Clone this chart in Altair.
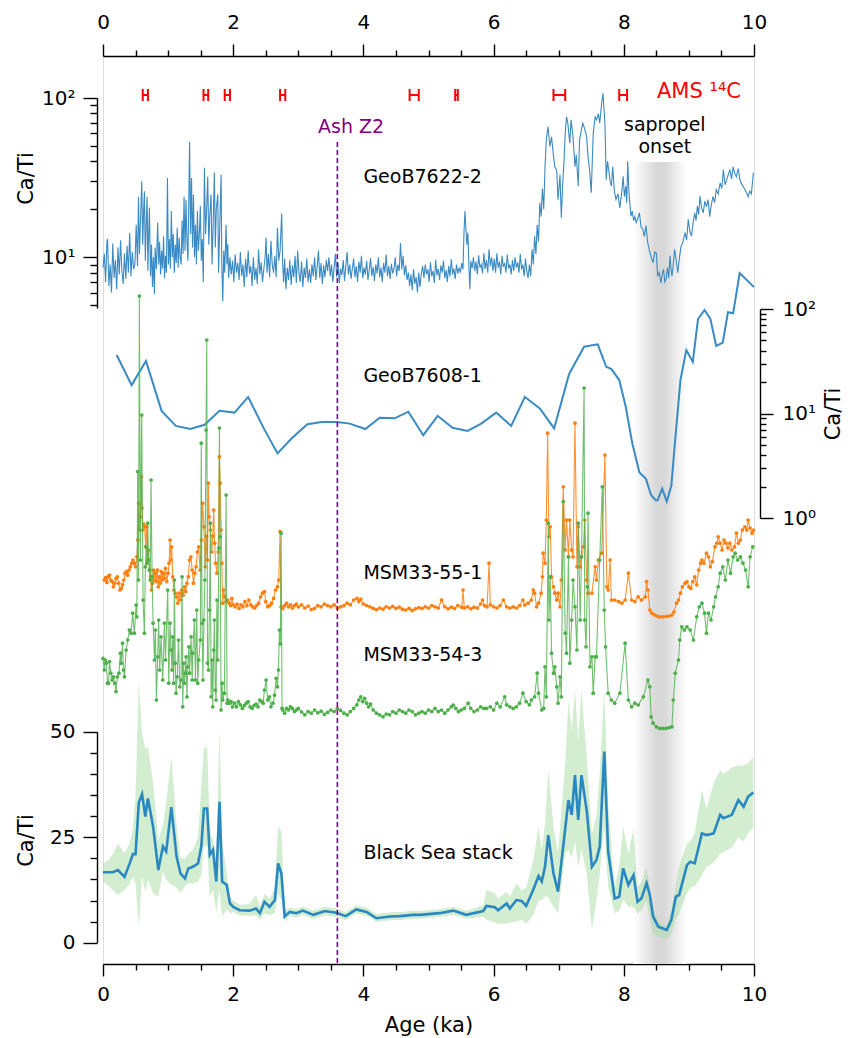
import altair as alt
import pandas as pd

# ---------------- data: Ca/Ti records, age in ka ----------------
GEOB7622_2 = [
    (0.00, 8.6), (0.02, 10.5), (0.04, 7.0), (0.06, 12.5), (0.07, 13.0), (0.09, 6.6), (0.11, 9.0),
    (0.13, 6.0), (0.15, 12.2), (0.17, 7.4), (0.19, 9.6), (0.21, 6.3), (0.23, 11.5), (0.25, 7.8),
    (0.27, 12.8), (0.29, 8.2), (0.31, 6.8), (0.33, 10.6), (0.35, 7.3), (0.37, 11.8), (0.39, 8.0),
    (0.41, 14.2), (0.43, 7.6), (0.45, 10.8), (0.47, 8.4), (0.49, 9.0), (0.51, 16.0), (0.53, 8.8),
    (0.545, 24.0), (0.56, 10.5), (0.58, 19.0), (0.595, 30.0), (0.61, 12.0), (0.625, 20.0),
    (0.636, 26.0), (0.65, 9.5), (0.665, 17.0), (0.677, 24.0), (0.69, 8.2), (0.70, 13.0),
    (0.713, 20.5), (0.73, 7.6), (0.745, 12.0), (0.76, 6.5), (0.775, 10.0), (0.79, 5.9),
    (0.80, 11.5), (0.82, 8.4), (0.84, 16.5), (0.855, 9.0), (0.87, 12.5), (0.885, 7.8), (0.90, 11.0),
    (0.915, 8.5), (0.93, 13.5), (0.945, 7.4), (0.96, 10.2), (0.975, 8.0), (0.99, 31.5), (1.005, 9.0),
    (1.02, 13.0), (1.035, 8.5), (1.05, 19.5), (1.065, 10.0), (1.08, 14.0), (1.095, 8.0), (1.11, 12.0),
    (1.125, 9.2), (1.14, 15.3), (1.155, 8.6), (1.17, 13.3), (1.185, 10.0), (1.20, 9.0), (1.215, 17.0),
    (1.23, 10.5), (1.245, 24.0), (1.26, 11.0), (1.275, 23.0), (1.29, 12.5), (1.305, 9.5),
    (1.33, 53.0), (1.345, 14.0), (1.36, 31.5), (1.375, 11.5), (1.39, 24.8), (1.405, 10.0),
    (1.42, 16.0), (1.435, 9.0), (1.45, 19.5), (1.465, 11.0), (1.48, 14.0), (1.495, 21.0),
    (1.51, 9.5), (1.525, 13.0), (1.54, 7.0), (1.558, 36.5), (1.575, 14.0), (1.59, 19.0),
    (1.609, 32.0), (1.625, 12.0), (1.64, 18.0), (1.66, 24.8), (1.675, 9.0), (1.69, 15.0),
    (1.711, 34.0), (1.725, 11.5), (1.74, 20.0), (1.763, 24.8), (1.775, 8.0), (1.79, 14.0),
    (1.814, 33.0), (1.825, 9.0), (1.84, 5.3), (1.855, 11.0), (1.87, 8.0), (1.89, 16.0),
    (1.905, 9.0), (1.917, 12.1), (1.93, 7.4), (1.95, 10.0), (1.97, 7.8), (1.99, 9.5), (2.01, 7.0),
    (2.03, 10.4), (2.05, 8.0), (2.07, 9.2), (2.09, 7.2), (2.11, 10.8), (2.13, 7.6), (2.15, 9.0),
    (2.17, 6.5), (2.19, 9.8), (2.21, 7.5), (2.23, 11.0), (2.25, 7.9), (2.27, 8.8), (2.29, 6.6),
    (2.31, 10.0), (2.33, 7.2), (2.35, 8.6), (2.37, 6.8), (2.39, 11.2), (2.41, 7.8), (2.43, 9.3),
    (2.45, 7.0), (2.47, 8.4), (2.49, 10.0), (2.505, 13.3), (2.52, 8.0), (2.54, 10.5), (2.56, 7.5),
    (2.58, 12.7), (2.60, 9.0), (2.62, 8.0), (2.64, 10.2), (2.66, 7.5), (2.68, 15.3), (2.70, 9.5),
    (2.72, 11.0), (2.745, 18.8), (2.76, 9.0), (2.775, 7.0), (2.79, 9.8), (2.81, 6.3), (2.83, 8.6),
    (2.85, 7.2), (2.87, 9.6), (2.89, 6.7), (2.91, 8.9), (2.93, 7.5), (2.95, 10.2), (2.97, 6.9),
    (2.99, 11.0), (3.01, 8.0), (3.03, 7.0), (3.05, 9.4), (3.07, 6.5), (3.09, 8.6), (3.11, 7.4),
    (3.13, 9.8), (3.15, 7.0), (3.17, 8.4), (3.19, 6.9), (3.21, 9.0), (3.23, 7.6), (3.25, 10.0),
    (3.27, 7.2), (3.29, 8.8), (3.31, 11.0), (3.33, 7.4), (3.35, 9.2), (3.37, 6.8), (3.39, 8.9),
    (3.41, 7.5), (3.43, 9.6), (3.45, 8.2), (3.47, 10.0), (3.49, 7.6), (3.51, 9.0), (3.53, 7.0),
    (3.55, 8.6), (3.57, 10.5), (3.59, 7.5), (3.61, 9.2), (3.63, 6.9), (3.65, 8.5), (3.67, 7.7),
    (3.69, 9.6), (3.71, 7.1), (3.73, 8.8), (3.75, 10.8), (3.77, 7.8), (3.79, 9.0), (3.81, 7.3),
    (3.83, 8.5), (3.85, 9.8), (3.87, 7.5), (3.89, 8.8), (3.91, 7.0), (3.93, 9.4), (3.95, 8.0),
    (3.97, 10.2), (3.99, 7.4), (4.01, 8.6), (4.03, 7.8), (4.05, 9.5), (4.07, 7.2), (4.09, 8.3),
    (4.11, 9.9), (4.13, 7.6), (4.15, 8.7), (4.17, 7.1), (4.19, 9.0), (4.21, 7.9), (4.23, 10.0),
    (4.25, 7.5), (4.27, 8.6), (4.29, 7.0), (4.31, 9.2), (4.33, 8.0), (4.35, 10.4), (4.37, 7.6),
    (4.39, 8.8), (4.41, 7.3), (4.43, 9.1), (4.45, 7.9), (4.47, 8.5), (4.49, 10.0), (4.51, 7.6),
    (4.53, 9.0), (4.55, 8.2), (4.57, 12.3), (4.59, 8.4), (4.61, 10.2), (4.63, 7.7), (4.65, 8.9),
    (4.67, 7.2), (4.69, 8.0), (4.71, 6.6), (4.73, 7.8), (4.75, 6.2), (4.77, 8.4), (4.79, 6.8),
    (4.81, 7.5), (4.83, 6.0), (4.85, 8.0), (4.87, 6.5), (4.89, 7.9), (4.91, 8.8), (4.93, 7.4),
    (4.95, 9.0), (4.97, 7.8), (4.99, 8.4), (5.01, 7.0), (5.03, 9.3), (5.05, 7.6), (5.07, 8.2),
    (5.09, 6.9), (5.11, 9.6), (5.13, 7.7), (5.15, 8.5), (5.17, 7.2), (5.19, 8.9), (5.21, 8.0),
    (5.23, 9.5), (5.25, 7.4), (5.27, 8.3), (5.29, 7.0), (5.31, 8.8), (5.33, 7.6), (5.35, 9.7),
    (5.37, 7.8), (5.39, 8.5), (5.41, 7.3), (5.43, 9.0), (5.45, 7.9), (5.47, 8.6), (5.49, 8.0),
    (5.51, 9.2), (5.53, 8.4), (5.545, 14.3), (5.56, 19.5), (5.575, 15.0), (5.59, 12.0),
    (5.605, 14.3), (5.62, 9.0), (5.635, 6.3), (5.65, 9.5), (5.67, 8.5), (5.69, 10.0), (5.71, 8.2),
    (5.73, 9.4), (5.75, 7.8), (5.77, 10.3), (5.79, 8.6), (5.81, 9.0), (5.83, 7.9), (5.85, 10.6),
    (5.87, 8.4), (5.89, 9.6), (5.91, 8.0), (5.93, 11.2), (5.95, 8.8), (5.97, 10.0), (5.99, 8.2),
    (6.01, 9.8), (6.03, 8.0), (6.05, 10.6), (6.07, 8.6), (6.09, 9.4), (6.11, 7.8), (6.13, 10.2),
    (6.15, 8.7), (6.17, 9.2), (6.19, 8.0), (6.21, 10.4), (6.23, 8.5), (6.25, 9.0), (6.27, 7.8),
    (6.29, 9.6), (6.31, 8.2), (6.33, 10.0), (6.35, 8.6), (6.37, 9.3), (6.39, 8.0), (6.41, 10.5),
    (6.43, 8.4), (6.45, 9.0), (6.47, 7.6), (6.49, 9.8), (6.51, 8.2), (6.53, 7.4), (6.55, 9.0),
    (6.57, 7.6), (6.59, 11.2), (6.61, 9.0), (6.63, 13.6), (6.65, 10.5), (6.67, 16.0), (6.69, 12.5),
    (6.71, 22.0), (6.73, 18.0), (6.75, 27.0), (6.77, 20.0), (6.79, 37.0), (6.81, 55.0),
    (6.835, 66.0), (6.865, 49.6), (6.89, 57.0), (6.92, 43.0), (6.94, 37.0), (6.97, 35.0),
    (6.99, 23.0), (7.02, 33.0), (7.04, 17.7), (7.06, 28.0), (7.08, 39.0), (7.10, 60.0),
    (7.12, 76.4), (7.14, 69.5), (7.17, 52.0), (7.19, 73.0), (7.22, 57.0), (7.25, 37.0),
    (7.27, 44.0), (7.30, 27.9), (7.32, 54.6), (7.345, 62.0), (7.37, 69.5), (7.40, 63.7),
    (7.43, 57.0), (7.45, 43.0), (7.475, 35.0), (7.50, 25.4), (7.53, 60.0), (7.56, 76.0),
    (7.58, 73.0), (7.61, 79.6), (7.63, 69.5), (7.66, 92.6), (7.68, 107.0), (7.71, 69.5),
    (7.73, 30.7), (7.75, 40.0), (7.77, 35.0), (7.79, 30.0), (7.81, 27.9), (7.83, 37.0),
    (7.855, 26.0), (7.88, 23.0), (7.91, 25.0), (7.94, 20.4), (7.97, 26.0), (7.99, 32.2),
    (8.01, 24.0), (8.03, 27.9), (8.045, 22.0), (8.06, 40.0), (8.08, 25.0), (8.11, 18.1),
    (8.13, 19.5), (8.15, 17.0), (8.17, 18.0), (8.19, 16.5), (8.215, 17.5), (8.24, 19.0),
    (8.265, 15.5), (8.29, 15.0), (8.315, 13.5), (8.34, 15.8), (8.365, 12.5), (8.39, 11.2),
    (8.42, 10.0), (8.45, 9.25), (8.475, 10.8), (8.50, 10.6), (8.52, 7.6), (8.545, 8.0),
    (8.57, 6.9), (8.59, 7.8), (8.61, 8.4), (8.63, 7.0), (8.65, 7.3), (8.67, 8.6), (8.69, 7.4),
    (8.71, 10.2), (8.725, 8.5), (8.74, 7.6), (8.76, 9.0), (8.78, 11.2), (8.805, 9.5), (8.83, 8.0),
    (8.855, 10.0), (8.88, 11.7), (8.91, 12.5), (8.94, 14.3), (8.965, 12.8), (8.99, 17.3),
    (9.015, 14.5), (9.04, 13.6), (9.065, 16.5), (9.09, 19.0), (9.11, 17.0), (9.13, 21.0),
    (9.15, 18.5), (9.17, 24.2), (9.195, 20.5), (9.22, 19.0), (9.245, 22.5), (9.27, 20.7),
    (9.295, 23.0), (9.32, 18.0), (9.345, 21.5), (9.37, 24.0), (9.395, 22.0), (9.42, 26.6),
    (9.45, 25.0), (9.48, 29.3), (9.505, 27.0), (9.53, 35.5), (9.555, 28.5), (9.58, 30.7),
    (9.605, 33.0), (9.63, 35.5), (9.655, 31.0), (9.68, 37.0), (9.705, 33.5), (9.73, 32.0),
    (9.745, 34.5), (9.76, 36.0), (9.78, 31.0), (9.80, 29.3), (9.83, 28.0), (9.86, 26.6),
    (9.885, 25.5), (9.91, 24.0), (9.935, 26.0), (9.96, 25.0), (9.975, 29.0), (9.99, 33.9),
]

GEOB7608_1 = [
    (0.21, 36.3), (0.44, 18.7), (0.66, 31.8), (0.90, 10.6), (1.12, 7.6), (1.34, 7.1), (1.56, 7.8),
    (1.79, 10.6), (2.02, 10.2), (2.23, 14.4), (2.47, 7.2), (2.68, 4.15), (2.90, 5.8), (3.14, 7.9),
    (3.36, 8.3), (3.59, 8.3), (3.79, 8.0), (4.03, 7.1), (4.25, 9.1), (4.48, 9.0), (4.69, 10.4),
    (4.92, 6.2), (5.14, 9.5), (5.37, 7.3), (5.60, 6.8), (5.81, 8.0), (6.04, 10.2), (6.27, 7.6),
    (6.48, 14.4), (6.71, 11.2), (6.93, 7.2), (7.16, 23.9), (7.39, 43.6), (7.60, 45.9),
    (7.73, 28.0), (7.81, 26.6), (7.93, 20.9), (8.03, 11.6), (8.13, 5.2), (8.24, 2.73),
    (8.34, 2.37), (8.42, 1.65), (8.49, 1.48), (8.52, 1.48), (8.59, 1.91), (8.66, 1.44),
    (8.73, 2.03), (8.78, 4.8), (8.87, 20.9), (8.96, 40.5), (9.06, 31.3), (9.14, 80.2),
    (9.24, 98.0), (9.33, 80.2), (9.42, 44.3), (9.52, 47.6), (9.60, 93.0), (9.68, 91.0),
    (9.78, 221.0), (10.0, 162.0),
]

MSM33_55_1 = [
    (0.02, 15.0), (0.04, 15.6), (0.06, 14.4), (0.08, 15.8), (0.10, 16.2), (0.12, 15.0), (0.14, 14.6),
    (0.16, 13.3), (0.18, 14.2), (0.20, 15.4), (0.22, 15.8), (0.24, 14.2), (0.26, 12.5), (0.28, 12.9),
    (0.30, 13.8), (0.32, 15.0), (0.34, 16.7), (0.36, 17.1), (0.38, 16.2), (0.40, 17.5), (0.42, 18.3),
    (0.44, 19.2), (0.46, 20.0), (0.48, 19.2), (0.50, 18.3), (0.52, 20.8), (0.535, 25.0),
    (0.55, 34.2), (0.56, 27.5), (0.575, 30.8), (0.59, 40.8), (0.60, 33.0), (0.61, 27.5),
    (0.625, 29.0), (0.64, 28.3), (0.655, 23.3), (0.67, 28.3), (0.685, 20.0), (0.70, 22.5),
    (0.715, 17.5), (0.73, 15.8), (0.745, 12.5), (0.76, 14.2), (0.775, 17.5), (0.79, 15.0),
    (0.805, 16.7), (0.82, 14.6), (0.835, 17.5), (0.85, 13.3), (0.865, 15.8), (0.88, 14.2),
    (0.895, 17.1), (0.91, 15.0), (0.925, 16.7), (0.94, 15.4), (0.96, 17.9), (0.98, 14.6),
    (1.00, 16.7), (1.015, 19.2), (1.03, 25.0), (1.045, 20.0), (1.055, 23.3), (1.07, 15.8),
    (1.09, 12.5), (1.11, 11.7), (1.13, 10.8), (1.15, 9.2), (1.17, 11.7), (1.19, 10.0), (1.21, 12.5),
    (1.23, 11.2), (1.25, 13.3), (1.27, 12.1), (1.29, 14.2), (1.31, 15.8), (1.33, 20.0), (1.35, 20.8),
    (1.37, 17.5), (1.39, 14.2), (1.41, 16.7), (1.43, 18.3), (1.45, 22.0), (1.47, 23.3), (1.49, 17.5),
    (1.51, 25.0), (1.531, 34.2), (1.55, 28.3), (1.57, 18.3), (1.59, 26.0), (1.605, 20.0),
    (1.618, 39.2), (1.63, 30.8), (1.65, 27.5), (1.67, 22.0), (1.685, 26.0), (1.70, 32.5),
    (1.715, 24.2), (1.73, 19.2), (1.75, 16.7), (1.77, 22.0), (1.787, 45.8), (1.80, 39.2),
    (1.815, 27.5), (1.825, 19.2), (1.838, 9.2), (1.85, 12.5), (1.87, 10.8), (1.89, 9.6),
    (1.915, 10.0), (1.94, 9.2), (1.96, 8.6), (1.98, 10.4), (2.00, 8.8), (2.03, 8.3), (2.06, 9.0),
    (2.09, 7.9), (2.12, 8.8), (2.15, 8.3), (2.18, 9.6), (2.21, 8.6), (2.24, 10.0), (2.27, 8.8),
    (2.30, 8.3), (2.33, 8.0), (2.36, 8.6), (2.39, 9.2), (2.42, 10.8), (2.45, 11.7), (2.48, 12.1),
    (2.50, 9.6), (2.53, 8.3), (2.56, 8.6), (2.59, 9.2), (2.62, 10.4), (2.65, 12.5), (2.68, 13.3),
    (2.70, 15.0), (2.72, 27.1), (2.735, 8.3), (2.76, 7.9), (2.79, 8.6), (2.82, 9.2), (2.85, 8.3),
    (2.88, 8.8), (2.91, 8.0), (2.94, 8.6), (2.97, 9.0), (3.00, 8.3), (3.05, 8.8), (3.10, 8.0),
    (3.15, 8.5), (3.20, 7.6), (3.25, 7.9), (3.30, 8.6), (3.35, 8.3), (3.40, 9.0), (3.45, 8.6),
    (3.50, 8.3), (3.55, 8.8), (3.60, 8.0), (3.65, 8.3), (3.70, 8.6), (3.75, 9.2), (3.80, 8.8),
    (3.85, 10.0), (3.90, 10.4), (3.93, 9.6), (3.96, 10.2), (4.00, 9.0), (4.05, 8.6), (4.10, 8.3),
    (4.15, 7.9), (4.20, 7.6), (4.25, 8.0), (4.30, 7.7), (4.35, 8.3), (4.40, 8.0), (4.45, 8.4),
    (4.50, 7.9), (4.55, 8.2), (4.60, 7.7), (4.65, 7.5), (4.70, 7.9), (4.75, 7.4), (4.80, 7.8),
    (4.85, 8.1), (4.90, 7.9), (4.95, 8.3), (5.00, 8.0), (5.05, 8.6), (5.10, 8.3), (5.15, 8.0),
    (5.20, 10.0), (5.25, 8.3), (5.30, 7.8), (5.35, 8.2), (5.40, 7.9), (5.45, 8.6), (5.51, 8.2),
    (5.53, 12.5), (5.55, 8.0), (5.60, 8.3), (5.65, 7.8), (5.70, 8.2), (5.75, 8.0), (5.80, 9.0),
    (5.83, 10.0), (5.86, 8.6), (5.90, 8.3), (5.93, 19.2), (5.95, 8.8), (6.00, 8.3), (6.05, 8.0),
    (6.10, 8.6), (6.15, 10.0), (6.20, 8.3), (6.25, 8.0), (6.30, 8.3), (6.35, 8.0), (6.40, 8.6),
    (6.45, 10.0), (6.48, 8.75), (6.53, 9.2), (6.58, 10.0), (6.61, 12.5), (6.63, 11.7), (6.66, 8.3),
    (6.69, 9.2), (6.73, 11.7), (6.75, 15.8), (6.76, 21.7), (6.79, 19.2), (6.81, 30.0),
    (6.83, 51.7), (6.85, 25.8), (6.87, 28.3), (6.89, 15.8), (6.92, 13.3), (6.94, 11.7),
    (6.97, 10.0), (6.99, 11.7), (7.02, 8.3), (7.04, 15.0), (7.07, 38.3), (7.10, 22.5), (7.12, 30.0),
    (7.15, 20.8), (7.17, 30.0), (7.20, 22.5), (7.22, 20.8), (7.25, 54.2), (7.28, 18.3), (7.30, 28.3),
    (7.33, 18.3), (7.35, 20.8), (7.38, 23.3), (7.40, 30.0), (7.43, 15.0), (7.45, 11.7), (7.51, 11.7),
    (7.56, 18.3), (7.58, 15.0), (7.61, 20.0), (7.66, 21.7), (7.71, 46.25), (7.74, 13.3),
    (7.76, 12.5), (7.79, 20.0), (7.81, 10.0), (7.86, 10.0), (7.92, 9.6), (7.97, 9.2), (8.02, 10.0),
    (8.07, 16.7), (8.12, 10.0), (8.17, 9.6), (8.22, 10.8), (8.27, 10.0), (8.33, 10.8), (8.35, 14.6),
    (8.37, 12.5), (8.40, 7.5), (8.43, 6.7), (8.47, 6.3), (8.51, 6.0), (8.55, 5.8), (8.60, 5.8),
    (8.65, 5.9), (8.70, 6.0), (8.74, 6.25), (8.77, 7.0), (8.81, 9.2), (8.84, 10.0), (8.87, 11.7),
    (8.90, 13.3), (8.94, 14.2), (8.97, 14.6), (9.00, 13.3), (9.03, 12.9), (9.06, 14.6), (9.09, 15.8),
    (9.12, 13.8), (9.15, 17.5), (9.18, 19.2), (9.20, 20.0), (9.23, 19.2), (9.27, 21.7), (9.30, 20.8),
    (9.33, 18.3), (9.36, 19.6), (9.40, 23.3), (9.43, 24.2), (9.45, 25.8), (9.48, 24.2), (9.51, 22.5),
    (9.54, 25.0), (9.57, 24.2), (9.60, 23.0), (9.63, 24.2), (9.66, 22.5), (9.70, 23.3), (9.73, 26.7),
    (9.76, 24.2), (9.79, 25.0), (9.82, 27.5), (9.86, 28.3), (9.89, 27.5), (9.91, 30.0), (9.94, 28.0),
    (9.97, 26.7), (9.99, 27.5),
]

MSM33_54_3 = [
    (0.00, 20.4), (0.02, 17.5), (0.035, 20.0), (0.05, 19.2), (0.07, 14.2), (0.085, 14.2),
    (0.10, 19.6), (0.12, 16.7), (0.14, 15.0), (0.16, 15.8), (0.18, 14.2), (0.20, 12.1), (0.22, 15.8),
    (0.245, 16.7), (0.267, 21.7), (0.28, 19.2), (0.30, 24.2), (0.315, 17.5), (0.33, 15.8),
    (0.355, 22.5), (0.38, 25.0), (0.405, 27.5), (0.43, 26.7), (0.456, 31.7), (0.482, 26.7),
    (0.508, 33.75), (0.52, 30.8), (0.533, 67.1), (0.545, 40.0), (0.559, 111.0), (0.574, 45.0),
    (0.595, 81.25), (0.615, 35.0), (0.636, 26.7), (0.651, 43.3), (0.661, 48.3), (0.675, 44.2),
    (0.687, 54.2), (0.70, 45.0), (0.713, 42.5), (0.725, 40.0), (0.738, 65.0), (0.754, 40.8),
    (0.77, 29.2), (0.79, 20.0), (0.805, 27.5), (0.82, 10.0), (0.84, 20.8), (0.855, 30.0),
    (0.87, 17.5), (0.892, 25.8), (0.917, 15.0), (0.943, 29.2), (0.96, 20.0), (0.994, 37.5),
    (1.01, 14.2), (1.03, 29.2), (1.046, 22.5), (1.06, 17.5), (1.071, 25.8), (1.085, 14.2),
    (1.097, 40.0), (1.11, 19.2), (1.122, 11.7), (1.14, 15.8), (1.16, 25.0), (1.18, 13.3),
    (1.199, 15.0), (1.215, 40.8), (1.225, 8.3), (1.24, 19.2), (1.25, 14.2), (1.265, 16.7),
    (1.276, 20.8), (1.29, 10.8), (1.302, 18.3), (1.32, 23.3), (1.33, 16.7), (1.353, 25.8),
    (1.37, 15.0), (1.379, 21.7), (1.404, 30.0), (1.42, 15.0), (1.44, 32.5), (1.455, 14.2),
    (1.47, 20.0), (1.495, 25.0), (1.51, 74.2), (1.522, 29.2), (1.535, 15.0), (1.55, 30.0),
    (1.565, 40.0), (1.583, 77.5), (1.594, 100.0), (1.605, 19.2), (1.62, 17.5), (1.635, 32.5),
    (1.65, 54.2), (1.66, 10.8), (1.675, 20.0), (1.686, 8.3), (1.70, 22.5), (1.711, 30.0),
    (1.725, 12.5), (1.737, 10.0), (1.75, 35.0), (1.763, 20.0), (1.78, 48.0), (1.788, 78.0),
    (1.80, 50.8), (1.814, 7.5), (1.83, 14.2), (1.84, 10.0), (1.865, 11.7), (1.891, 61.25),
    (1.906, 9.2), (1.92, 10.0), (1.942, 9.2), (1.968, 9.6), (1.99, 8.3), (2.02, 9.2), (2.05, 8.3),
    (2.08, 9.6), (2.11, 8.8), (2.14, 7.9), (2.17, 8.6), (2.20, 9.2), (2.23, 9.6), (2.26, 8.3),
    (2.29, 7.9), (2.32, 8.6), (2.35, 9.0), (2.38, 8.3), (2.41, 10.0), (2.44, 9.6), (2.46, 9.2),
    (2.48, 12.5), (2.505, 15.0), (2.53, 10.0), (2.557, 10.8), (2.58, 8.3), (2.61, 9.2),
    (2.635, 11.2), (2.66, 15.4), (2.68, 13.3), (2.695, 17.5), (2.71, 27.5), (2.725, 24.0),
    (2.736, 51.7), (2.75, 7.9), (2.762, 7.5), (2.79, 6.7), (2.82, 7.9), (2.85, 7.5), (2.88, 8.3),
    (2.91, 7.9), (2.94, 7.1), (2.97, 7.5), (3.00, 7.9), (3.05, 7.0), (3.10, 6.3), (3.15, 7.1),
    (3.20, 6.7), (3.25, 7.5), (3.30, 6.8), (3.35, 7.2), (3.40, 6.4), (3.45, 6.9), (3.50, 7.5),
    (3.55, 7.1), (3.60, 7.9), (3.65, 7.4), (3.70, 6.7), (3.75, 6.3), (3.80, 7.1), (3.85, 7.9),
    (3.90, 8.8), (3.93, 10.0), (3.96, 10.8), (3.99, 9.6), (4.02, 10.4), (4.05, 9.2), (4.08, 8.3),
    (4.11, 9.0), (4.15, 7.5), (4.20, 6.7), (4.25, 6.3), (4.30, 5.8), (4.35, 6.5), (4.40, 6.3),
    (4.45, 7.1), (4.50, 6.7), (4.55, 7.5), (4.60, 7.1), (4.65, 6.7), (4.70, 7.5), (4.75, 7.1),
    (4.80, 6.3), (4.85, 6.7), (4.90, 7.1), (4.95, 6.7), (5.00, 7.5), (5.05, 7.1), (5.10, 7.9),
    (5.15, 7.1), (5.20, 7.5), (5.25, 6.7), (5.30, 7.5), (5.35, 8.3), (5.38, 8.75), (5.42, 7.9),
    (5.46, 7.1), (5.50, 7.5), (5.55, 7.9), (5.61, 9.2), (5.65, 7.9), (5.70, 7.1), (5.75, 7.5),
    (5.80, 8.3), (5.85, 7.9), (5.89, 7.9), (5.95, 8.3), (6.00, 7.5), (6.05, 9.2), (6.10, 8.3),
    (6.17, 10.8), (6.20, 8.8), (6.25, 8.3), (6.30, 7.9), (6.35, 8.3), (6.40, 9.2), (6.45, 11.7),
    (6.50, 9.6), (6.55, 8.8), (6.58, 10.0), (6.63, 10.8), (6.67, 16.7), (6.69, 11.7), (6.74, 7.5),
    (6.77, 7.9), (6.79, 18.3), (6.81, 10.8), (6.84, 54.2), (6.85, 30.0), (6.87, 40.8),
    (6.89, 21.7), (6.92, 16.7), (6.94, 18.3), (6.97, 13.3), (6.99, 9.2), (7.02, 15.8), (7.04, 10.8),
    (7.07, 59.6), (7.10, 26.7), (7.12, 21.7), (7.15, 45.8), (7.17, 19.2), (7.20, 30.0), (7.22, 40.0),
    (7.25, 33.3), (7.28, 22.5), (7.30, 54.2), (7.33, 30.0), (7.35, 45.8), (7.39, 88.0), (7.40, 30.0),
    (7.42, 23.3), (7.44, 38.3), (7.45, 56.7), (7.48, 18.3), (7.51, 20.8), (7.53, 11.7), (7.56, 20.8),
    (7.58, 20.8), (7.63, 45.0), (7.67, 63.3), (7.70, 32.5), (7.72, 23.3), (7.76, 11.7), (7.81, 10.0),
    (7.86, 9.2), (7.94, 11.7), (8.02, 24.2), (8.07, 10.0), (8.12, 8.3), (8.17, 9.2), (8.22, 8.75),
    (8.30, 10.8), (8.37, 15.0), (8.40, 13.3), (8.42, 5.8), (8.45, 4.2), (8.50, 3.3), (8.55, 2.9),
    (8.60, 2.9), (8.65, 2.9), (8.70, 3.1), (8.74, 3.3), (8.76, 10.0), (8.79, 16.7), (8.84, 20.0),
    (8.86, 25.0), (8.89, 28.3), (8.93, 27.5), (8.97, 28.3), (9.02, 27.5), (9.07, 25.0), (9.12, 30.8),
    (9.16, 33.3), (9.20, 34.2), (9.24, 31.7), (9.27, 26.7), (9.30, 31.7), (9.34, 30.0), (9.38, 33.3),
    (9.41, 35.8), (9.45, 38.3), (9.48, 41.7), (9.52, 43.3), (9.56, 40.0), (9.60, 45.0), (9.64, 41.7),
    (9.68, 45.8), (9.71, 46.7), (9.75, 45.0), (9.79, 45.8), (9.83, 44.2), (9.87, 42.5), (9.91, 38.3),
    (9.94, 45.8), (9.98, 48.3),
]

# Black Sea stack: age, mean, lower and upper envelope
STACK = [
    (0.00, 16.7, 14.5, 18.8), (0.08, 16.7, 13.5, 19.5), (0.15, 16.7, 12.5, 21.0),
    (0.23, 17.2, 11.3, 23.5), (0.33, 15.6, 12.5, 21.2), (0.41, 18.8, 14.0, 23.5),
    (0.46, 21.0, 15.5, 27.0), (0.50, 21.0, 14.0, 35.0), (0.55, 33.2, 3.8, 62.0),
    (0.60, 35.2, 15.6, 49.6), (0.65, 29.9, 12.0, 46.0), (0.69, 34.2, 14.9, 46.5),
    (0.77, 27.5, 11.7, 37.8), (0.85, 17.2, 10.9, 24.3), (0.92, 22.8, 17.0, 28.0),
    (0.97, 21.6, 15.0, 33.0), (1.05, 32.1, 13.7, 44.0), (1.13, 20.4, 13.0, 28.0),
    (1.19, 16.4, 11.7, 20.0), (1.26, 15.2, 13.5, 20.0), (1.31, 17.6, 14.0, 21.0),
    (1.38, 18.0, 14.0, 22.0), (1.46, 18.8, 14.5, 25.0), (1.51, 22.8, 16.0, 37.0),
    (1.55, 31.8, 22.8, 46.0), (1.60, 31.8, 22.8, 46.5), (1.64, 20.8, 10.9, 26.5),
    (1.69, 22.0, 12.5, 24.3), (1.74, 14.5, 7.3, 20.0), (1.79, 33.4, 12.5, 50.4),
    (1.83, 14.5, 6.2, 24.3), (1.90, 13.7, 7.8, 16.4), (1.95, 9.3, 7.0, 10.9),
    (2.00, 8.5, 7.3, 10.0), (2.10, 7.7, 6.5, 9.0), (2.25, 7.6, 6.3, 9.2), (2.35, 8.1, 6.5, 11.3),
    (2.41, 7.0, 5.5, 8.5), (2.48, 9.7, 7.0, 11.5), (2.56, 8.5, 6.5, 10.5), (2.64, 10.1, 7.0, 13.0),
    (2.69, 18.8, 11.7, 27.5), (2.74, 16.4, 10.1, 26.5), (2.79, 6.2, 5.0, 7.7),
    (2.87, 7.3, 6.3, 8.3), (2.97, 7.0, 6.0, 8.0), (3.07, 7.6, 6.6, 8.6), (3.23, 6.6, 5.6, 7.6),
    (3.41, 7.5, 6.5, 8.5), (3.58, 7.1, 6.1, 8.1), (3.73, 6.3, 5.3, 7.3), (3.89, 7.9, 6.9, 8.9),
    (4.05, 7.3, 6.3, 8.3), (4.20, 5.8, 4.9, 6.8), (4.41, 6.2, 5.3, 7.2), (4.56, 6.3, 5.4, 7.3),
    (4.76, 6.6, 5.7, 7.6), (4.87, 6.6, 5.7, 7.5), (5.17, 7.0, 6.1, 7.9), (5.38, 7.6, 6.6, 8.5),
    (5.58, 6.6, 5.7, 7.6), (5.84, 7.5, 6.2, 8.8), (5.89, 8.7, 5.4, 12.5), (6.02, 8.4, 4.8, 11.7),
    (6.07, 7.7, 4.5, 10.5), (6.20, 9.3, 4.5, 12.0), (6.25, 8.1, 4.8, 11.0),
    (6.35, 10.1, 5.0, 14.0), (6.43, 9.9, 5.5, 12.5), (6.50, 8.7, 4.5, 13.0),
    (6.61, 12.6, 6.5, 19.6), (6.69, 15.8, 10.0, 27.5), (6.74, 14.5, 10.0, 22.0),
    (6.79, 18.0, 11.0, 28.0), (6.84, 25.5, 10.9, 40.9), (6.92, 16.4, 8.5, 27.5),
    (6.99, 12.1, 7.0, 21.2), (7.10, 27.0, 21.2, 42.5), (7.15, 33.8, 22.0, 57.5),
    (7.20, 30.3, 20.0, 50.0), (7.25, 39.7, 24.0, 60.0), (7.30, 29.1, 18.0, 48.0),
    (7.35, 39.7, 22.0, 60.0), (7.43, 31.4, 16.4, 44.0), (7.51, 18.0, 3.0, 25.9),
    (7.58, 19.6, 10.0, 30.0), (7.63, 22.8, 16.4, 40.0), (7.70, 45.3, 27.5, 60.0),
    (7.76, 21.6, 13.3, 33.0), (7.86, 10.5, 7.0, 13.3), (7.93, 10.9, 7.5, 18.0),
    (7.99, 17.6, 10.1, 27.5), (8.07, 13.7, 8.5, 21.2), (8.15, 16.0, 8.5, 26.7),
    (8.21, 9.7, 7.0, 13.3), (8.27, 10.5, 7.5, 14.0), (8.35, 14.1, 10.1, 18.0),
    (8.40, 11.3, 6.0, 13.0), (8.45, 6.2, 2.2, 8.0), (8.53, 3.8, 1.4, 5.0), (8.66, 3.0, 1.0, 4.0),
    (8.73, 5.4, 2.0, 7.5), (8.80, 10.9, 5.5, 14.0), (8.85, 11.3, 7.0, 18.0),
    (8.97, 18.4, 11.7, 23.5), (9.02, 19.2, 13.0, 24.0), (9.09, 18.8, 13.3, 26.0),
    (9.20, 25.9, 16.0, 36.2), (9.27, 25.5, 18.0, 31.7), (9.38, 25.9, 19.0, 37.8),
    (9.48, 30.3, 21.0, 40.9), (9.53, 29.5, 21.5, 40.0), (9.66, 30.3, 22.5, 41.5),
    (9.76, 33.8, 25.0, 42.0), (9.84, 32.2, 24.0, 42.0), (9.91, 34.6, 25.9, 42.5),
    (9.99, 35.6, 27.5, 44.0),
]

# AMS 14C dated levels: age and half-width of the age uncertainty (ka)
AMS_AGE = [0.65, 1.58, 1.91, 2.76, 4.78, 5.43, 7.01, 7.99]
AMS_ERR = [0.04, 0.036, 0.04, 0.04, 0.07, 0.02, 0.09, 0.06]

ASH_Z2_AGE = 3.6
SAPROPEL_ONSET = (8.15, 8.97)

# ---------------- styling ----------------
FONT = "DejaVu Sans"
BLUE = "#3a8ac4"
STACK_BLUE = "#2a88c0"
ORANGE = "#ff7f0e"
GREEN = "#4daf4a"
PURPLE = "#800080"

X_SCALE = alt.Scale(domain=[0, 10], nice=False, zero=False)
S7622 = alt.Scale(type="log", domain=[4.8, 100], range=[252, 42], nice=False)
S7608 = alt.Scale(type="log", domain=[1, 100], range=[462, 253], nice=False)
S5551 = alt.Scale(domain=[0, 100], range=[584, 184], nice=False, zero=False)
S5443 = alt.Scale(domain=[0, 120], range=[684, 204], nice=False, zero=False)
SSTACK = alt.Scale(domain=[0, 50], range=[886.7, 675.7], nice=False, zero=False)


def axis(**kw):
    base = dict(grid=False, domainColor="black", tickColor="black", labelColor="black",
                titleColor="black", domainWidth=1.4, tickWidth=1.4, labelFont=FONT,
                titleFont=FONT, labelFontSize=20, titleFontSize=21, titleFontWeight="normal",
                labelOverlap=False, labelFlush=False, labelBound=False)
    base.update(kw)
    return alt.Axis(**base)


def ticksize(test, major, minor):
    return {"condition": {"test": test, "value": major}, "value": minor}


MAJOR_AGES = [0, 2, 4, 6, 8, 10]
MINOR_AGES = [i * 0.5 for i in range(21) if i % 4 != 0]

x_bottom = axis(orient="bottom", values=MAJOR_AGES, format="d", tickSize=12, labelPadding=8,
                title="Age (ka)", titleY=61, titleBaseline="middle")
x_bottom_minor = axis(orient="bottom", values=MINOR_AGES, tickSize=6, labels=False,
                      domain=False, title=None)
x_top = axis(orient="top", values=MAJOR_AGES, format="d", tickSize=12, labelPadding=12,
             title=None)
x_top_minor = axis(orient="top", values=MINOR_AGES, tickSize=6, labels=False, domain=False,
                   title=None)

y_7622 = axis(orient="left", offset=6,
              values=[5, 6, 7, 8, 9, 10, 20, 30, 40, 50, 60, 70, 80, 90, 100],
              labelExpr="datum.value == 10 ? '10\u00b9' : (datum.value == 100 ? '10\u00b2' : '')",
              tickSize=ticksize("datum.value == 10 || datum.value == 100", 14, 7),
              labelPadding=8, title="Ca/Ti", titleY=122, titleX=-71, titleAngle=270,
              titleBaseline="middle", titleAlign="center")
y_7608 = axis(orient="right", offset=6,
              values=[1, 2, 3, 4, 5, 6, 7, 8, 9, 10, 20, 30, 40, 50, 60, 70, 80, 90, 100],
              labelExpr="datum.value == 1 ? '10\u2070' : (datum.value == 10 ? '10\u00b9' : (datum.value == 100 ? '10\u00b2' : ''))",
              tickSize=ticksize("datum.value == 1 || datum.value == 10 || datum.value == 100", 13, 6),
              labelPadding=9, title="Ca/Ti", titleX=73, titleAngle=270,
              titleBaseline="middle", titleAlign="center")
y_stack = axis(orient="left", offset=6, values=list(range(0, 51, 5)),
               labelExpr="datum.value % 25 == 0 ? format(datum.value, 'd') : ''",
               tickSize=ticksize("datum.value % 25 == 0", 14, 7), labelPadding=8,
               title="Ca/Ti", titleY=784, titleX=-71, titleAngle=270,
               titleBaseline="middle", titleAlign="center")

# ---------------- frames ----------------
df7622 = pd.DataFrame(GEOB7622_2, columns=["age", "cati"])
df7608 = pd.DataFrame(GEOB7608_1, columns=["age", "cati"])
df5551 = pd.DataFrame(MSM33_55_1, columns=["age", "cati"])
df5443 = pd.DataFrame(MSM33_54_3, columns=["age", "cati"])
dfstack = pd.DataFrame(STACK, columns=["age", "mean", "low", "high"])
dfams = pd.DataFrame({"age": AMS_AGE, "err": AMS_ERR})
dfams["lo"] = dfams["age"] - dfams["err"]
dfams["hi"] = dfams["age"] + dfams["err"]
dfcaps = pd.DataFrame({"age": list(dfams["lo"]) + list(dfams["hi"])})


def xenc(field="age", ax=None):
    return alt.X(f"{field}:Q", scale=X_SCALE, axis=ax)


# ---------------- layers ----------------
sapropel = alt.Chart(pd.DataFrame({"start": [SAPROPEL_ONSET[0]], "end": [SAPROPEL_ONSET[1]]})).mark_rect(
    color=alt.LinearGradient(
        gradient="linear", x1=0, x2=1, y1=0, y2=0,
        stops=[alt.GradientStop(offset=0, color="#ffffff"),
               alt.GradientStop(offset=0.42, color="#d8d8d8"),
               alt.GradientStop(offset=0.58, color="#d8d8d8"),
               alt.GradientStop(offset=1, color="#ffffff")])
).encode(x=xenc("start"), x2="end:Q", y=alt.value(106), y2=alt.value(908))

stack_band = alt.Chart(dfstack).mark_area(color="#a6dba0", opacity=0.5).encode(
    x=xenc(ax=x_bottom_minor), y=alt.Y("low:Q", scale=SSTACK, axis=None), y2="high:Q")
stack_line = alt.Chart(dfstack).mark_line(color=STACK_BLUE, strokeWidth=2.6).encode(
    x=xenc(ax=x_bottom), y=alt.Y("mean:Q", scale=SSTACK, axis=y_stack))

line7622 = alt.Chart(df7622).mark_line(color=BLUE, strokeWidth=1.1).encode(
    x=xenc(ax=x_top), y=alt.Y("cati:Q", scale=S7622, axis=y_7622))
line7608 = alt.Chart(df7608).mark_line(color=BLUE, strokeWidth=2).encode(
    x=xenc(ax=x_top_minor), y=alt.Y("cati:Q", scale=S7608, axis=y_7608))

line5551 = alt.Chart(df5551).mark_line(color=ORANGE, strokeWidth=1.1, opacity=0.85).encode(
    x=xenc(), y=alt.Y("cati:Q", scale=S5551, axis=None))
pts5551 = alt.Chart(df5551).mark_circle(color=ORANGE, size=14, opacity=1).encode(
    x=xenc(), y=alt.Y("cati:Q", scale=S5551, axis=None))
line5443 = alt.Chart(df5443).mark_line(color=GREEN, strokeWidth=1.1, opacity=0.8).encode(
    x=xenc(), y=alt.Y("cati:Q", scale=S5443, axis=None))
pts5443 = alt.Chart(df5443).mark_circle(color=GREEN, size=14, opacity=1).encode(
    x=xenc(), y=alt.Y("cati:Q", scale=S5443, axis=None))

ash = alt.Chart(pd.DataFrame({"age": [ASH_Z2_AGE]})).mark_rule(
    color=PURPLE, strokeWidth=1.6, strokeDash=[5, 3]
).encode(x=xenc(), y=alt.value(86), y2=alt.value(908))

ams_bar = alt.Chart(dfams).mark_rule(color="red", strokeWidth=2).encode(
    x=xenc("lo"), x2="hi:Q", y=alt.value(39))
ams_caps = alt.Chart(dfcaps).mark_rule(color="red", strokeWidth=2).encode(
    x=xenc(), y=alt.value(33), y2=alt.value(45))


def label(text, age, ypx, color="black", size=19, align="left"):
    return alt.Chart(pd.DataFrame({"age": [age], "t": [text]})).mark_text(
        font=FONT, fontSize=size, color=color, align=align, baseline="middle"
    ).encode(x=xenc(), y=alt.value(ypx), text="t:N")


texts = [
    label("GeoB7622-2", 4.0, 121),
    label("GeoB7608-1", 4.0, 320),
    label("MSM33-55-1", 4.0, 517),
    label("MSM33-54-3", 4.0, 599),
    label("Black Sea stack", 4.0, 797),
    label("Ash Z2", 3.81, 71, color=PURPLE, align="center"),
    label("sapropel", 8.63, 69, align="center"),
    label("onset", 8.63, 91, align="center"),
    label("AMS \u00b9\u2074C", 8.51, 36, color="red", size=21),
]

chart = alt.layer(
    sapropel, stack_band, stack_line, line7622, line7608,
    line5551, pts5551, line5443, pts5443, ash, ams_bar, ams_caps, *texts
).resolve_scale(y="independent").resolve_axis(x="independent", y="independent").properties(
    width=651, height=908,
    autosize=alt.AutoSizeParams(type="none"),
    padding={"left": 103, "top": 56, "right": 100, "bottom": 74},
).configure_view(stroke=None).configure(background="white")

chart.save("out.html", embed_options={"renderer": "svg", "actions": False})
